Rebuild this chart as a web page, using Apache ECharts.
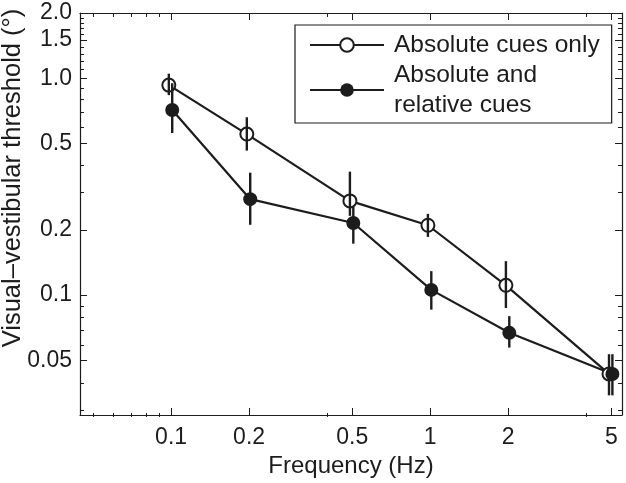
<!DOCTYPE html>
<html><head><meta charset="utf-8">
<script src="https://cdn.jsdelivr.net/npm/echarts@6/dist/echarts.min.js"></script>
<style>html,body{margin:0;padding:0;background:#fff}#c{width:626px;height:483px}</style>
</head><body><div id="c"></div>
<script>
// ---- data ----
const seriesNames = ['Absolute cues only', 'Absolute and\nrelative cues'];
const frequencies = [0.1, 0.2, 0.5, 1, 2, 5];
// points are slightly offset horizontally in the figure
const openX = [0.098, 0.196, 0.49, 0.98, 1.96, 4.9];
const openY = [0.93, 0.553, 0.272, 0.21, 0.111, 0.0433];
const openLow = [0.836, 0.464, 0.232, 0.1855, 0.0872, 0.0345];
const openHigh = [1.05, 0.661, 0.371, 0.237, 0.1434, 0.0534];
const filledX = [0.101, 0.202, 0.505, 1.01, 2.02, 5.05];
const filledY = [0.714, 0.277, 0.215, 0.1057, 0.067, 0.0433];
const filledLow = [0.559, 0.211, 0.1727, 0.0857, 0.0573, 0.0345];
const filledHigh = [0.949, 0.367, 0.255, 0.129, 0.08, 0.0534];
const xMajorTicks = [0.1, 0.2, 0.5, 1, 2, 5];
const xMinorTicks = [0.05, 0.06, 0.07, 0.08, 0.09, 0.4, 4];
const yMajorTicks = [0.05, 0.1, 0.2, 0.5, 1, 1.5, 2];
const yMinorTicks = [0.03, 0.04, 0.06, 0.07, 0.08, 0.09, 0.3, 0.4, 0.6, 0.7, 0.8, 0.9, 1.1, 1.2, 1.3, 1.4, 1.6, 1.7, 1.8, 1.9];
const xRange = [0.0445, 5.5];
const yRange = [0.028, 2.0];

// ---- style ----
const C = '#1c1c1c';
const FONT = '"Liberation Sans", Arial, Helvetica, sans-serif';
const rnd = v => parseFloat(Number(v).toPrecision(6));
const xFmt = v => String(rnd(v));
const yFmt = v => { const r = rnd(v); return r >= 1 ? r.toFixed(1) : String(r); };

const rect = {left: 80, right: 4, top: 13, bottom: 66};

function xAx(grid, pos, ticks, len, line, labels) {
  const a = {
    type: 'log', logBase: 10, min: xRange[0], max: xRange[1], gridIndex: grid, position: pos,
    splitLine: {show: false}, minorTick: {show: false}, minorSplitLine: {show: false},
    axisLine: {show: line, onZero: false, lineStyle: {color: C, width: 1.2}},
    axisTick: {show: true, inside: true, length: len, customValues: ticks, lineStyle: {color: C, width: 1}},
    axisLabel: {show: false}
  };
  if (labels) {
    a.axisLabel = {show: true, customValues: ticks, formatter: xFmt, fontSize: 23, fontFamily: FONT, color: C, margin: 11};
    a.name = 'Frequency (Hz)';
    a.nameLocation = 'middle';
    a.nameGap = 39;
    a.nameTextStyle = {fontSize: 24, fontFamily: FONT, color: C};
  }
  return a;
}
function yAx(grid, pos, ticks, len, line, labels) {
  const a = {
    type: 'log', logBase: 10, min: yRange[0], max: yRange[1], gridIndex: grid, position: pos,
    splitLine: {show: false}, minorTick: {show: false}, minorSplitLine: {show: false},
    axisLine: {show: line, onZero: false, lineStyle: {color: C, width: 1.2}},
    axisTick: {show: true, inside: true, length: len, customValues: ticks, lineStyle: {color: C, width: 1}},
    axisLabel: {show: false}
  };
  if (labels) {
    a.axisLabel = {show: true, customValues: ticks, formatter: yFmt, fontSize: 23, fontFamily: FONT, color: C, margin: 8};
  }
  return a;
}

function errorSeries(name, xs, lows, highs) {
  return {
    type: 'custom', name: name, xAxisIndex: 0, yAxisIndex: 0, z: 5, silent: true,
    data: xs.map((x, i) => [x, lows[i], highs[i]]),
    encode: {x: 0, y: [1, 2]},
    renderItem: function (params, api) {
      const p1 = api.coord([api.value(0), api.value(1)]);
      const p2 = api.coord([api.value(0), api.value(2)]);
      return {type: 'line', shape: {x1: p1[0], y1: p1[1], x2: p2[0], y2: p2[1]},
              style: {stroke: C, lineWidth: 2.4}};
    }
  };
}

const chart = echarts.init(document.getElementById('c'), null, {renderer: 'canvas'});
chart.setOption({
  animation: false,
  backgroundColor: '#fff',
  grid: [Object.assign({}, rect), Object.assign({}, rect)],
  xAxis: [
    xAx(0, 'bottom', xMajorTicks, 7, true, true),
    xAx(0, 'top', xMajorTicks, 7, true, false),
    xAx(1, 'bottom', xMinorTicks, 4, false, false),
    xAx(1, 'top', xMinorTicks, 4, false, false)
  ],
  yAxis: [
    yAx(0, 'left', yMajorTicks, 7, true, true),
    yAx(0, 'right', yMajorTicks, 7, true, false),
    yAx(1, 'left', yMinorTicks, 4, false, false),
    yAx(1, 'right', yMinorTicks, 4, false, false)
  ],
  legend: {
    data: seriesNames, selectedMode: false,
    orient: 'vertical', left: 295, top: 25,
    padding: [5, 12, 3, 14], itemGap: 0, itemWidth: 74, itemHeight: 17,
    borderColor: C, borderWidth: 1.2, backgroundColor: '#fff',
    textStyle: {fontSize: 24.5, lineHeight: 30, color: C, fontFamily: FONT, padding: [0, 0, 0, 5]}
  },
  graphic: [{
    type: 'text', x: 13, y: 178, rotation: Math.PI / 2,
    style: {text: 'Visual–vestibular threshold (°)', fontSize: 25.5, fontFamily: FONT, fill: C,
            align: 'center', verticalAlign: 'middle'}
  }],
  series: [
    {
      type: 'line', name: seriesNames[0], xAxisIndex: 0, yAxisIndex: 0, z: 3,
      data: openX.map((x, i) => [x, openY[i]]),
      symbol: 'emptyCircle', symbolSize: 13,
      lineStyle: {color: C, width: 2.2}, itemStyle: {color: C, borderWidth: 2.2}
    },
    {
      type: 'line', name: seriesNames[1], xAxisIndex: 0, yAxisIndex: 0, z: 3,
      data: filledX.map((x, i) => [x, filledY[i]]),
      symbol: 'circle', symbolSize: 14,
      lineStyle: {color: C, width: 2.2}, itemStyle: {color: C}
    },
    errorSeries('err-open', openX, openLow, openHigh),
    errorSeries('err-filled', filledX, filledLow, filledHigh)
  ]
});
</script>
</body></html>
